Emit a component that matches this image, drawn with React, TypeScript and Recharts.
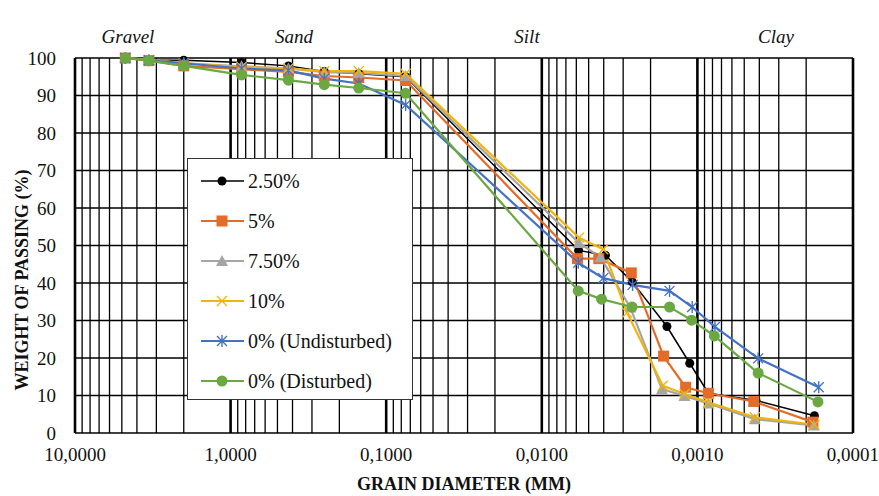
import { LineChart, Line, XAxis, YAxis, CartesianGrid, ReferenceLine, Legend } from 'recharts';

const FONT = '"Liberation Serif", "Times New Roman", serif';

// sieve openings (mm), shared by every sample
const sieveSizes = [4.75, 3.35, 2.0, 0.85, 0.425, 0.25, 0.15, 0.075];

const pass25Sieve = [100, 99.5, 99.4, 98.8, 97.9, 96.4, 95.8, 95.0];
const pass25HydroD = [0.0058, 0.0039, 0.00262, 0.00157, 0.00112, 0.00085, 0.00042, 0.000177];
const pass25Hydro = [48.7, 47.4, 40.3, 28.4, 18.6, 10.6, 8.7, 4.6];

const pass5Sieve = [100, 99.3, 97.9, 97.0, 96.3, 95.2, 94.8, 94.0];
const pass5HydroD = [0.0059, 0.0043, 0.00266, 0.00165, 0.00119, 0.00085, 0.000434, 0.000181];
const pass5Hydro = [46.5, 46.5, 42.7, 20.5, 12.2, 10.6, 8.4, 2.9];

const pass75Sieve = [100, 99.5, 98.6, 97.8, 97.2, 96.2, 96.0, 95.2];
const pass75HydroD = [0.00577, 0.0042, 0.0027, 0.00169, 0.00121, 0.00085, 0.000428, 0.000179];
const pass75Hydro = [50.7, 46.9, 33.5, 11.7, 9.9, 7.9, 3.7, 2.0];

const pass10Sieve = [100, 99.5, 98.6, 97.6, 97.2, 96.5, 96.5, 95.8];
const pass10HydroD = [0.00577, 0.00403, 0.00283, 0.00167, 0.00121, 0.00085, 0.000428, 0.000177];
const pass10Hydro = [52.1, 49.0, 32.1, 12.6, 10.4, 8.2, 4.2, 2.2];

const undistSieve = [100, 99.4, 98.6, 97.2, 96.7, 94.5, 93.2, 87.5];
const undistHydroD = [0.00583, 0.00403, 0.00261, 0.00151, 0.00108, 0.000771, 0.000407, 0.000166];
const undistHydro = [45.4, 41.3, 39.5, 37.9, 33.6, 28.3, 19.9, 12.2];

const distSieve = [100, 99.3, 97.9, 95.5, 94.1, 92.9, 92.0, 90.6];
const distHydroD = [0.00583, 0.00413, 0.00263, 0.00151, 0.00109, 0.000778, 0.000407, 0.000168];
const distHydro = [37.9, 35.7, 33.6, 33.6, 30.1, 25.9, 16.0, 8.3];

const xTicks = [10, 1, 0.1, 0.01, 0.001, 0.0001];
const yTicks = [0, 10, 20, 30, 40, 50, 60, 70, 80, 90, 100];
const decades = [0.0001, 0.001, 0.01, 0.1, 1];
const soilTypes = [
  { name: 'Gravel', x: 128 },
  { name: 'Sand', x: 294 },
  { name: 'Silt', x: 527 },
  { name: 'Clay', x: 776 },
];

const toPoints = (sieve: number[], hydroD: number[], hydro: number[]) => [
  ...sieveSizes.map((d, i) => ({ d, p: sieve[i] })),
  ...hydroD.map((d, i) => ({ d, p: hydro[i] })),
];

type Shape = 'circle' | 'square' | 'triangle' | 'cross' | 'star' | 'bigCircle';

const series: { name: string; color: string; shape: Shape; width: number; data: { d: number; p: number }[] }[] = [
  { name: '2.50%', color: '#000000', shape: 'circle', width: 1.5, data: toPoints(pass25Sieve, pass25HydroD, pass25Hydro) },
  { name: '5%', color: '#E46C2A', shape: 'square', width: 2.2, data: toPoints(pass5Sieve, pass5HydroD, pass5Hydro) },
  { name: '7.50%', color: '#A5A5A5', shape: 'triangle', width: 2.2, data: toPoints(pass75Sieve, pass75HydroD, pass75Hydro) },
  { name: '10%', color: '#F2B40A', shape: 'cross', width: 2.2, data: toPoints(pass10Sieve, pass10HydroD, pass10Hydro) },
  { name: '0% (Undisturbed)', color: '#4472C4', shape: 'star', width: 2.2, data: toPoints(undistSieve, undistHydroD, undistHydro) },
  { name: '0% (Disturbed)', color: '#6AA842', shape: 'bigCircle', width: 2.2, data: toPoints(distSieve, distHydroD, distHydro) },
];

// log grid: 1..9 in each decade, heavier line at every power of ten
const gridLines = [
  ...decades.flatMap((dec) => [1, 2, 3, 4, 5, 6, 7, 8, 9].map((k) => ({ v: dec * k, major: k === 1 }))),
  { v: 10, major: true },
];

function Marker({ cx, cy, shape, color }: { cx: number; cy: number; shape: Shape; color: string }) {
  if (cx == null || cy == null) return null;
  switch (shape) {
    case 'circle':
      return <circle cx={cx} cy={cy} r={4.5} fill={color} />;
    case 'bigCircle':
      return <circle cx={cx} cy={cy} r={5.5} fill={color} />;
    case 'square':
      return <rect x={cx - 5.5} y={cy - 5.5} width={11} height={11} fill={color} />;
    case 'triangle':
      return <polygon points={`${cx},${cy - 6} ${cx + 6},${cy + 5} ${cx - 6},${cy + 5}`} fill={color} />;
    case 'cross':
      return (
        <path d={`M${cx - 5},${cy - 5}L${cx + 5},${cy + 5}M${cx - 5},${cy + 5}L${cx + 5},${cy - 5}`}
          stroke={color} strokeWidth={1.4} fill="none" />
      );
    case 'star':
      return (
        <path d={`M${cx - 5},${cy - 5}L${cx + 5},${cy + 5}M${cx - 5},${cy + 5}L${cx + 5},${cy - 5}M${cx},${cy - 6}L${cx},${cy + 6}`}
          stroke={color} strokeWidth={1.4} fill="none" />
      );
  }
  return null;
}

function GradationLegend() {
  return (
    <div style={{ border: '1px solid #333', background: '#fff', height: 242, boxSizing: 'border-box', paddingTop: 2 }}>
      {series.map((s) => (
        <div key={s.name} style={{ display: 'flex', alignItems: 'center', height: 40 }}>
          <svg width={60} height={20} style={{ flex: 'none' }}>
            <line x1={13} x2={56} y1={10} y2={10} stroke={s.color} strokeWidth={s.width} />
            <Marker cx={34} cy={10} shape={s.shape} color={s.color} />
          </svg>
          <span style={{ fontFamily: FONT, fontSize: 20, color: '#111' }}>{s.name}</span>
        </div>
      ))}
    </div>
  );
}

const fmtDiameter = (v: number) => v.toFixed(4).replace('.', ',');

export default function App() {
  return (
    <div style={{ position: 'absolute', left: 0, top: 0, width: 879, height: 496, background: '#fff' }}>
      {soilTypes.map((s) => (
        <div key={s.name} style={{
          position: 'absolute', left: s.x - 50, top: 26, width: 100, textAlign: 'center',
          fontFamily: FONT, fontStyle: 'italic', fontSize: 19, lineHeight: '22px', color: '#111',
        }}>
          {s.name}
        </div>
      ))}
      <LineChart width={879} height={496} margin={{ top: 58, right: 26, left: 30, bottom: 23 }}>
        <CartesianGrid vertical={false} stroke="#000" strokeWidth={1.3} />
        {gridLines.map((g) => (
          <ReferenceLine key={g.v} x={g.v} stroke="#000" strokeWidth={g.major ? 2.6 : 1.3} ifOverflow="extendDomain" />
        ))}
        <XAxis
          type="number" dataKey="d" scale="log" domain={[0.0001, 10]} reversed allowDataOverflow
          ticks={xTicks} tickFormatter={fmtDiameter} axisLine={false} tickLine={false}
          tickSize={6} tickMargin={9} height={40}
          tick={{ fontFamily: FONT, fontSize: 19, fill: '#111' }}
          label={() => (
            <text x={464} y={490} textAnchor="middle" fontFamily={FONT} fontWeight="bold" fontSize={18} fill="#111">
              GRAIN DIAMETER (MM)
            </text>
          )}
        />
        <YAxis
          type="number" domain={[0, 100]} ticks={yTicks} width={45} axisLine={false} tickLine={false}
          tickSize={6} tickMargin={13}
          tick={{ fontFamily: FONT, fontSize: 19, fill: '#111' }}
          label={() => (
            <text x={28} y={280} transform="rotate(-90 28 280)" textAnchor="middle"
              fontFamily={FONT} fontWeight="bold" fontSize={18} fill="#111">
              WEIGHT OF PASSING (%)
            </text>
          )}
        />
        <Legend layout="vertical" align="center" verticalAlign="middle" content={<GradationLegend />}
          wrapperStyle={{ left: 187, top: 158, width: 226 }} />
        {series.map((s) => (
          <Line
            key={s.name} data={s.data} dataKey="p" name={s.name} stroke={s.color} strokeWidth={s.width}
            isAnimationActive={false}
            dot={(p: any) => <Marker key={`${s.name}-${p.index}`} cx={p.cx} cy={p.cy} shape={s.shape} color={s.color} />}
            activeDot={false}
          />
        ))}
      </LineChart>
    </div>
  );
}
